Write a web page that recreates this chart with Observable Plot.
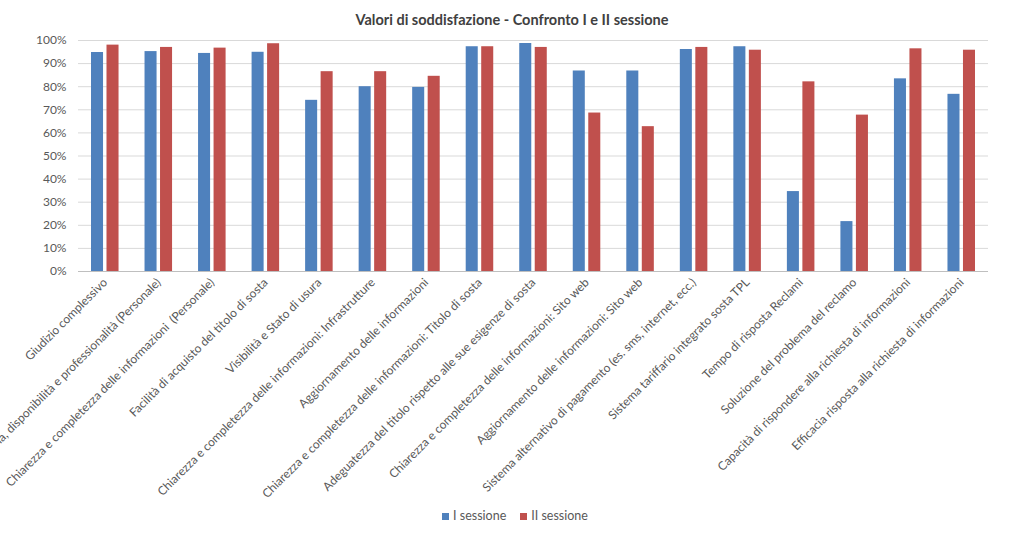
<!DOCTYPE html>
<html><head><meta charset="utf-8">
<script src="https://cdn.jsdelivr.net/npm/d3@7"></script>
<script src="https://cdn.jsdelivr.net/npm/@observablehq/plot@0.6"></script>
<style>
body{margin:0;background:#fff;font-family:Lato,sans-serif;width:1024px;height:536px;overflow:hidden;}
#title{height:32px;line-height:40px;text-align:center;font-weight:bold;font-size:14.5px;color:#404040;}
#legend{height:22px;display:flex;justify-content:center;align-items:center;gap:14px;font-size:12.5px;color:#595959;padding-left:6px;}
.sw{display:inline-block;width:7px;height:7px;margin-right:4px;}
#chart svg{display:block;}
#chart svg text{white-space:pre;}
</style></head><body>
<div id="title">Valori di soddisfazione - Confronto I e II sessione</div>
<div id="chart"></div>
<div id="legend"></div>
<script>
const categories = [
  "Giudizio complessivo",
  "Cortesia, disponibilità e professionalità (Personale)",
  "Chiarezza e completezza delle informazioni  (Personale)",
  "Facilità di acquisto del titolo di sosta",
  "Visibilità e Stato di usura",
  "Chiarezza e completezza delle informazioni: Infrastrutture",
  "Aggiornamento delle informazioni",
  "Chiarezza e completezza delle informazioni: Titolo di sosta",
  "Adeguatezza del titolo rispetto alle sue esigenze di sosta",
  "Chiarezza e completezza delle informazioni: Sito web",
  "Aggiornamento delle informazioni: Sito web",
  "Sistema alternativo di pagamento (es. sms, internet, ecc.)",
  "Sistema tariffario integrato sosta TPL",
  "Tempo di risposta Reclami",
  "Soluzione del problema del reclamo",
  "Capacità di rispondere alla richiesta di informazioni",
  "Efficacia risposta alla richiesta di informazioni"
];
const sessione1 = [0.948, 0.952, 0.944, 0.949, 0.741, 0.800, 0.797, 0.973, 0.987, 0.868, 0.868, 0.961, 0.973, 0.346, 0.216, 0.834, 0.767];
const sessione2 = [0.980, 0.970, 0.967, 0.986, 0.865, 0.865, 0.845, 0.973, 0.970, 0.686, 0.627, 0.970, 0.958, 0.821, 0.677, 0.964, 0.958];
const seriesNames = ["I sessione", "II sessione"];
const seriesColors = ["#4F81BD", "#C0504D"];
const yTicks = [0, 0.1, 0.2, 0.3, 0.4, 0.5, 0.6, 0.7, 0.8, 0.9, 1.0];

const rows1 = categories.map((c, i) => ({categoria: c, valore: sessione1[i]}));
const rows2 = categories.map((c, i) => ({categoria: c, valore: sessione2[i]}));

const chart = Plot.plot({
  width: 1024,
  height: 472,
  marginLeft: 78,
  marginRight: 36,
  marginTop: 8,
  marginBottom: 233,
  style: {fontFamily: "Lato, sans-serif", fontSize: "12px", color: "#595959", background: "#fff"},
  x: {type: "band", domain: categories, padding: 0, round: false, label: null},
  y: {domain: [0, 1], label: null},
  marks: [
    Plot.ruleY(yTicks.slice(1), {stroke: "#D9D9D9", strokeWidth: 1}),
    Plot.ruleY([0], {stroke: "#BFBFBF", strokeWidth: 1}),
    Plot.barY(rows1, {x: "categoria", y: "valore", fill: seriesColors[0], insetLeft: 13, insetRight: 28.5}),
    Plot.barY(rows2, {x: "categoria", y: "valore", fill: seriesColors[1], insetLeft: 28.5, insetRight: 13}),
    Plot.axisY({ticks: yTicks, tickFormat: d => Math.round(d * 100) + "%", tickSize: 0, tickPadding: 12, fontSize: 12, fill: "#595959", label: null}),
    Plot.axisX({tickRotate: -45, tickSize: 0, tickPadding: 9, fontSize: 12, fill: "#595959", label: null})
  ]
});
document.getElementById("chart").appendChild(chart);

const legend = document.getElementById("legend");
seriesNames.forEach((n, i) => {
  const s = document.createElement("span");
  s.innerHTML = `<span class="sw" style="background:${seriesColors[i]}"></span>${n}`;
  legend.appendChild(s);
});
</script>
</body></html>
